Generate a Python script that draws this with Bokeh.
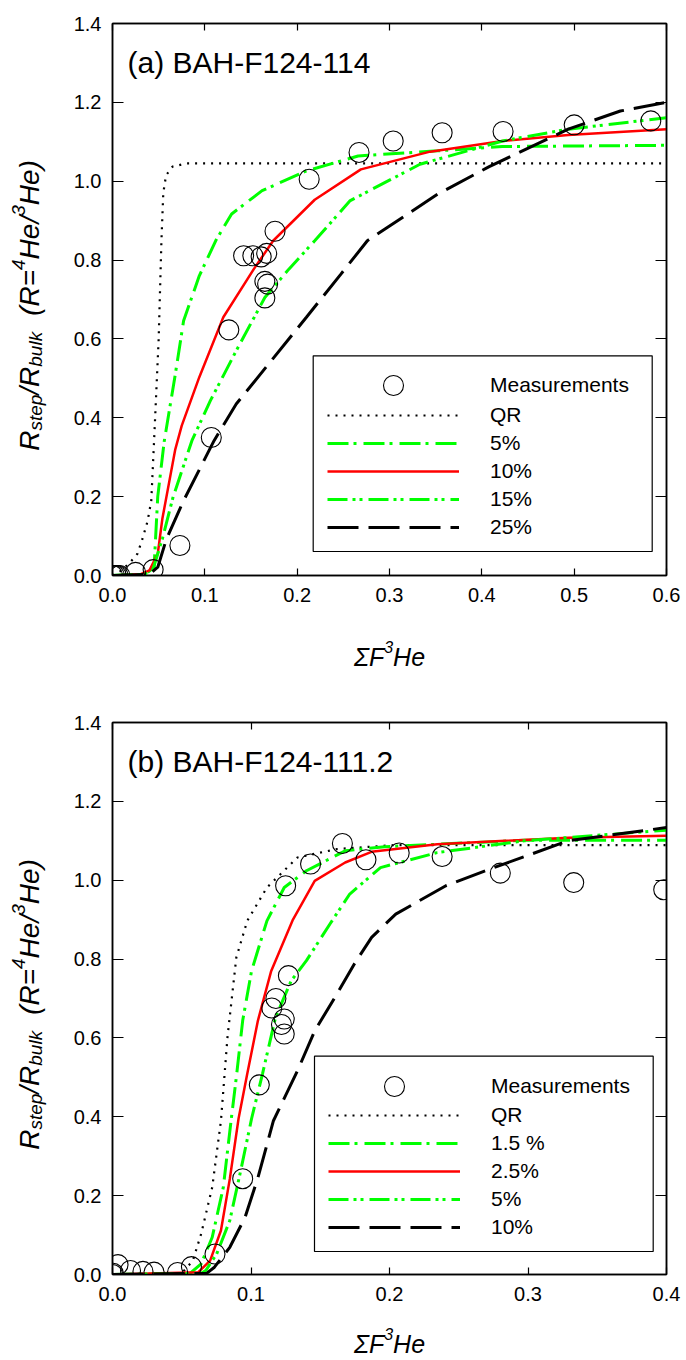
import math
from bokeh.plotting import figure
from bokeh.layouts import column, row
from bokeh.models import (Range1d, FixedTicker, PrintfTickFormatter, LinearAxis,
                          CustomJSTickFormatter, Legend, LegendItem, Label, BoxAnnotation)
from bokeh.embed import file_html
from bokeh.resources import INLINE

FONT = "Liberation Sans"

# ---------------- Panel (a) BAH-F124-114 ----------------
a_title = "(a) BAH-F124-114"
a_xticks = [0.0, 0.1, 0.2, 0.3, 0.4, 0.5, 0.6]
a_yticks = [0.0, 0.2, 0.4, 0.6, 0.8, 1.0, 1.2, 1.4]
a_labels = ["Measurements", "QR", "5%", "10%", "15%", "25%"]

a_meas_x = [0.000, 0.002, 0.004, 0.006, 0.008, 0.025, 0.044, 0.073, 0.107, 0.126, 0.142, 0.152,
            0.161, 0.167, 0.165, 0.168, 0.165, 0.176, 0.213, 0.267, 0.304, 0.357, 0.423, 0.500, 0.583]
a_meas_y = [0.000, 0.000, 0.000, 0.000, 0.000, 0.008, 0.015, 0.076, 0.350, 0.623, 0.811, 0.811,
            0.808, 0.817, 0.746, 0.739, 0.704, 0.873, 1.005, 1.073, 1.102, 1.123, 1.126, 1.143, 1.153]

a_qr_x = [0.0, 0.010, 0.020, 0.027, 0.033, 0.038, 0.042, 0.045, 0.050, 0.053, 0.055, 0.058, 0.065, 0.080, 0.600]
a_qr_y = [0.0, 0.013, 0.036, 0.055, 0.097, 0.138, 0.190, 0.340, 0.600, 0.850, 0.970, 1.015, 1.037, 1.045, 1.045]

a_5_x = [0.0, 0.035, 0.045, 0.049, 0.056, 0.068, 0.077, 0.094, 0.112, 0.129, 0.162, 0.210, 0.266, 0.352, 0.422, 0.600]
a_5_y = [0.0, 0.003, 0.020, 0.200, 0.340, 0.510, 0.646, 0.760, 0.850, 0.917, 0.976, 1.026, 1.064, 1.077, 1.088, 1.091]

a_10_x = [0.0, 0.030, 0.040, 0.049, 0.054, 0.068, 0.075, 0.094, 0.120, 0.153, 0.174, 0.219, 0.269, 0.344, 0.4225, 0.4935, 0.600]
a_10_y = [0.0, 0.003, 0.013, 0.055, 0.144, 0.320, 0.380, 0.503, 0.655, 0.777, 0.849, 0.953, 1.030, 1.075, 1.102, 1.117, 1.132]

a_15_x = [0.0, 0.035, 0.044, 0.054, 0.0655, 0.086, 0.106, 0.134, 0.165, 0.191, 0.219, 0.257, 0.333, 0.4225, 0.4935, 0.600]
a_15_y = [0.0, 0.003, 0.017, 0.093, 0.198, 0.342, 0.4435, 0.570, 0.705, 0.777, 0.849, 0.950, 1.043, 1.102, 1.132, 1.161]

a_25_x = [0.0, 0.040, 0.049, 0.0585, 0.077, 0.110, 0.134, 0.172, 0.210, 0.2476, 0.276, 0.352, 0.408, 0.4935, 0.550, 0.600]
a_25_y = [0.0, 0.003, 0.021, 0.093, 0.190, 0.342, 0.435, 0.545, 0.655, 0.765, 0.849, 0.967, 1.037, 1.132, 1.178, 1.200]

# ---------------- Panel (b) BAH-F124-111.2 ----------------
b_title = "(b) BAH-F124-111.2"
b_xticks = [0.0, 0.1, 0.2, 0.3, 0.4]
b_yticks = [0.0, 0.2, 0.4, 0.6, 0.8, 1.0, 1.2, 1.4]
b_labels = ["Measurements", "QR", "1.5 %", "2.5%", "5%", "10%"]

b_meas_x = [0.000, 0.0005, 0.004, 0.013, 0.022, 0.030, 0.047, 0.057, 0.074, 0.094, 0.106, 0.115, 0.118,
            0.122, 0.124, 0.124, 0.127, 0.125, 0.143, 0.166, 0.183, 0.207, 0.238, 0.280, 0.333, 0.398]
b_meas_y = [0.000, 0.003, 0.025, 0.010, 0.008, 0.006, 0.005, 0.020, 0.052, 0.243, 0.481, 0.676, 0.700,
            0.634, 0.648, 0.610, 0.758, 0.986, 1.041, 1.093, 1.052, 1.069, 1.060, 1.018, 0.994, 0.976]

b_qr_x = [0.0, 0.050, 0.058, 0.064, 0.072, 0.0783, 0.083, 0.0894, 0.0973, 0.1115, 0.1335, 0.162, 0.203, 0.400]
b_qr_y = [0.0, 0.003, 0.035, 0.103, 0.221, 0.390, 0.601, 0.804, 0.897, 0.9815, 1.0575, 1.079, 1.089, 1.089]

b_15_x = [0.0, 0.056, 0.064, 0.072, 0.080, 0.0856, 0.0894, 0.094, 0.1004, 0.1115, 0.124, 0.140, 0.168, 0.1966, 0.2975, 0.400]
b_15_y = [0.0, 0.003, 0.027, 0.0945, 0.221, 0.390, 0.500, 0.644, 0.770, 0.897, 0.9815, 1.024, 1.0745, 1.085, 1.1015, 1.1015]

b_25_x = [0.0, 0.062, 0.0705, 0.0783, 0.0847, 0.091, 0.0973, 0.105, 0.1146, 0.130, 0.146, 0.168, 0.187, 0.2344, 0.329, 0.400]
b_25_y = [0.0, 0.006, 0.035, 0.1115, 0.2425, 0.395, 0.509, 0.644, 0.770, 0.898, 0.9985, 1.045, 1.072, 1.091, 1.108, 1.1125]

b_5_x = [0.0, 0.064, 0.0673, 0.0752, 0.0847, 0.0926, 0.1004, 0.1083, 0.1177, 0.129, 0.140, 0.157, 0.1713, 0.1935, 0.2344, 0.2975, 0.400]
b_5_y = [0.0, 0.003, 0.010, 0.052, 0.137, 0.264, 0.395, 0.509, 0.652, 0.745, 0.796, 0.889, 0.965, 1.032, 1.070, 1.100, 1.127]

b_10_x = [0.0, 0.068, 0.0736, 0.0847, 0.0957, 0.1051, 0.1162, 0.1336, 0.146, 0.162, 0.1745, 0.1871, 0.2045, 0.2407, 0.2754, 0.329, 0.400]
b_10_y = [0.0, 0.003, 0.0185, 0.069, 0.145, 0.2466, 0.390, 0.517, 0.618, 0.711, 0.787, 0.855, 0.914, 0.986, 1.032, 1.100, 1.1335]

# ---------------- helpers ----------------
CW = {" ": .278, "(": .333, ")": .333, "/": .278, "=": .584, "3": .556, "4": .556, "H": .722,
      "R": .722, "F": .611, "e": .556, "s": .5, "t": .278, "p": .556, "b": .556, "u": .556,
      "l": .222, "k": .5, "\u03a3": .6}

YL = 70          # width of the y-title strip
MAIN_W = 686 - YL
FRAME_L = 112 - YL


def tw(s, size):
    return sum(CW.get(c, .556) for c in s) * size


def blank(width, height):
    f = figure(width=width, height=height, x_range=Range1d(0, 1), y_range=Range1d(0, 1),
               output_backend="svg", toolbar_location=None, x_axis_location=None,
               y_axis_location=None, min_border=0, outline_line_color=None)
    f.xgrid.visible = False
    f.ygrid.visible = False
    f.background_fill_color = "white"
    f.border_fill_color = "white"
    return f


def rich_h(p, pieces, x, y):
    for text, size, shift, gap in pieces:
        x += gap
        p.add_layout(Label(x=x, y=y + shift, x_units="screen", y_units="screen", text=text,
                           text_font=FONT, text_font_size=f"{size}px", text_font_style="italic",
                           text_align="left", text_baseline="alphabetic", text_color="black"))
        x += tw(text, size)


def rich_v(p, pieces, x, y):
    for text, size, shift, gap in pieces:
        y += gap
        p.add_layout(Label(x=x - shift, y=y, x_units="screen", y_units="screen", text=text,
                           angle=math.pi / 2, text_font=FONT, text_font_size=f"{size}px",
                           text_font_style="italic", text_align="left", text_baseline="alphabetic",
                           text_color="black"))
        y += tw(text, size)


def make_panel(title, xmax, xticks, yticks, total_h, xt_h, xt_base, meas_x, meas_y, curves,
               labels, box):
    main_h = total_h - xt_h
    p = figure(width=MAIN_W, height=main_h, x_range=Range1d(0, xmax), y_range=Range1d(0, 1.4),
               output_backend="svg", toolbar_location=None,
               min_border_left=FRAME_L, min_border_right=20, min_border_top=23, min_border_bottom=40)
    p.background_fill_color = "white"
    p.border_fill_color = "white"
    p.outline_line_color = "black"
    p.outline_line_width = 1.5
    p.xgrid.visible = False
    p.ygrid.visible = False

    for ax, ticks, tin, sto in ((p.xaxis[0], xticks, 7, 12), (p.yaxis[0], yticks, 11, 11)):
        ax.ticker = FixedTicker(ticks=ticks)
        ax.formatter = PrintfTickFormatter(format="%.1f")
        ax.major_tick_in = tin
        ax.major_tick_out = 0
        ax.minor_tick_line_color = None
        ax.axis_line_width = 1.5
        ax.axis_line_color = "black"
        ax.major_tick_line_width = 1.2
        ax.major_tick_line_color = "black"
        ax.major_label_text_font = FONT
        ax.major_label_text_font_size = "20px"
        ax.major_label_text_color = "black"
        ax.major_label_standoff = sto

    for ticks, place, tin in ((xticks, "above", 7), (yticks, "right", 11)):
        m = LinearAxis(ticker=FixedTicker(ticks=ticks), formatter=CustomJSTickFormatter(code="return ''"),
                       major_tick_in=tin, major_tick_out=0, minor_tick_line_color=None,
                       axis_line_width=1.5, major_tick_line_width=1.2,
                       major_label_text_font_size="0px", major_label_standoff=0)
        p.add_layout(m, place)

    styles = [
        dict(line_color="black", line_width=2.2, line_dash="2 6"),
        dict(line_color="#00ff00", line_width=3, line_dash="21 5 3 7"),
        dict(line_color="#ff0000", line_width=2.5),
        dict(line_color="#00ff00", line_width=3, line_dash="20 5 3 4 3 6"),
        dict(line_color="black", line_width=3, line_dash="31 10"),
    ]
    rends = []
    for (cx, cy), st in zip(curves, styles):
        rends.append(p.line(cx, cy, **st))
    circ = p.scatter(meas_x, meas_y, marker="circle", size=20, fill_color=None,
                     line_color="black", line_width=1.1)

    # legend frame
    bl, bb, br, bt = box
    p.add_layout(BoxAnnotation(left=bl, right=br, bottom=bb, top=bt, left_units="screen",
                               right_units="screen", top_units="screen", bottom_units="screen",
                               fill_color="white", fill_alpha=1.0, line_color="black",
                               line_width=1.2, line_alpha=1.0))
    gx = int(round(bl + 14.5))
    common = dict(orientation="vertical", padding=0, glyph_width=132, label_standoff=31,
                  label_text_font=FONT, label_text_font_size="21px", label_text_color="black",
                  border_line_color=None, background_fill_alpha=0.0, margin=0)
    leg1 = Legend(items=[LegendItem(label=labels[0], renderers=[circ])],
                  location=(gx, int(round(bt - 30 - 25))), glyph_height=50, label_height=20,
                  spacing=0, **common)
    items = [LegendItem(label=lab, renderers=[r]) for lab, r in zip(labels[1:], rends)]
    leg2 = Legend(items=items, location=(gx, int(round(bt - 183.2))), glyph_height=24,
                  label_height=24, spacing=4, **common)
    p.add_layout(leg1)
    p.add_layout(leg2)

    p.add_layout(Label(x=15, y=513, x_units="screen", y_units="screen", text=title,
                       text_font=FONT, text_font_size="30px", text_baseline="middle",
                       text_align="left", text_color="black"))

    # x-axis title strip: ΣF³He  (its frame is aligned with the plot frame above)
    xf = blank(MAIN_W, xt_h)
    xpieces = [("\u03a3F", 25, 0, 0), ("3", 16, 10, 0), ("He", 25, 0, 0)]
    total = sum(tw(t, s) + g for t, s, _, g in xpieces)
    rich_h(xf, xpieces, 277 - total / 2, xt_h - xt_base)

    # y-axis title strip: R_step/R_bulk  (R=⁴He/³He)
    yf = blank(YL, total_h)
    ypieces = [("R", 28, 0, 0), ("step", 19, -6, 0), ("/R", 28, 0, 0), ("bulk", 19, -6, 0),
               ("(R=", 28, 0, 16), ("4", 19, 11, 0), ("He/", 28, 0, 0), ("3", 19, 11, 0), ("He)", 28, 0, 0)]
    ytotal = sum(tw(t, s) + g for t, s, _, g in ypieces)
    frame_bottom_from_strip_bottom = total_h - 575
    rich_v(yf, ypieces, 29, frame_bottom_from_strip_bottom + 270 - ytotal / 2)

    return row(yf, column(p, xf, spacing=0), spacing=0)


panel_a = make_panel(a_title, 0.6, a_xticks, a_yticks, 699, 84, 41, a_meas_x, a_meas_y,
                     [(a_qr_x, a_qr_y), (a_5_x, a_5_y), (a_10_x, a_10_y), (a_15_x, a_15_y), (a_25_x, a_25_y)],
                     a_labels, (200.7, 24, 539.7, 219.7))
panel_b = make_panel(b_title, 0.4, b_xticks, b_yticks, 661, 46, 29, b_meas_x, b_meas_y,
                     [(b_qr_x, b_qr_y), (b_15_x, b_15_y), (b_25_x, b_25_y), (b_5_x, b_5_y), (b_10_x, b_10_y)],
                     b_labels, (202, 23, 540.7, 218.3))

layout = column(panel_a, panel_b, spacing=0)
open("out.html", "w").write(file_html(layout, INLINE))
